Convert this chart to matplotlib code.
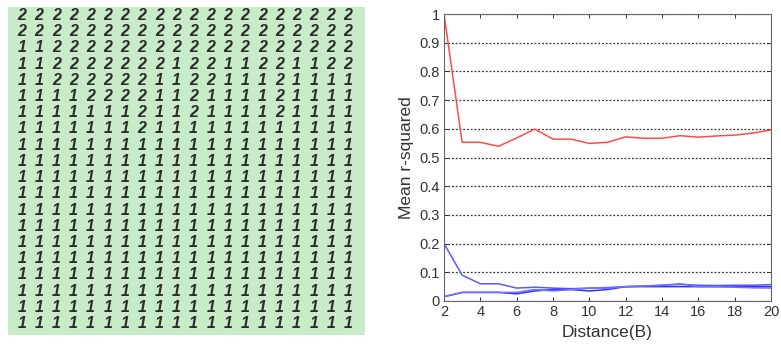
import matplotlib
matplotlib.use("Agg")
import matplotlib.pyplot as plt
import numpy as np

# ---- Left panel: digit grid (20 x 20) ----
grid_rows = [
    "22222222222222222222",
    "22222222222222222222",
    "11222222222222222222",
    "11222222212211221122",
    "11222222112211121111",
    "11112222112111121111",
    "11111112112111121111",
    "11111112111111111111",
    "11111111111111111111",
    "11111111111111111111",
    "11111111111111111111",
    "11111111111111111111",
    "11111111111111111111",
    "11111111111111111111",
    "11111111111111111111",
    "11111111111111111111",
    "11111111111111111111",
    "11111111111111111111",
    "11111111111111111111",
    "11111111111111111111",
]

# ---- Right panel: mean r-squared vs distance ----
distance = list(range(2, 21))
red_series = [1.0, 0.553, 0.553, 0.539, 0.568, 0.599, 0.564, 0.564, 0.549, 0.553,
              0.572, 0.567, 0.567, 0.576, 0.571, 0.575, 0.578, 0.585, 0.596]
blue_a = [0.20, 0.09, 0.06, 0.06, 0.045, 0.048, 0.045, 0.043, 0.045, 0.047,
          0.050, 0.052, 0.055, 0.058, 0.055, 0.054, 0.055, 0.055, 0.057]
blue_b = [0.015, 0.03, 0.03, 0.03, 0.025, 0.035, 0.040, 0.040, 0.035, 0.040,
          0.050, 0.050, 0.050, 0.050, 0.050, 0.050, 0.050, 0.050, 0.050]
blue_c = [0.015, 0.03, 0.03, 0.03, 0.030, 0.040, 0.035, 0.040, 0.045, 0.045,
          0.050, 0.052, 0.055, 0.060, 0.050, 0.050, 0.048, 0.046, 0.045]
y_ticks = [0, 0.1, 0.2, 0.3, 0.4, 0.5, 0.6, 0.7, 0.8, 0.9, 1]
y_tick_labels = ["0", "0.1", "0.2", "0.3", "0.4", "0.5", "0.6", "0.7", "0.8", "0.9", "1"]
x_ticks = list(range(2, 21, 2))

W, H = 781, 348
fig = plt.figure(figsize=(W / 100, H / 100), dpi=100)
fig.patch.set_facecolor("white")

# Left grid axes
axL = fig.add_axes([8 / W, 1 - 335 / H, 357 / W, 328 / H])
axL.set_facecolor("#c8ebc8")
for s in axL.spines.values():
    s.set_visible(False)
axL.set_xticks([])
axL.set_yticks([])
axL.set_xlim(-0.816, 19.99)
axL.set_ylim(19.8, -0.43)
for r, row in enumerate(grid_rows):
    for c, ch in enumerate(row):
        axL.text(c, r, ch, ha="center", va="center_baseline",
                 fontsize=11.5, fontweight="bold", fontstyle="italic",
                 family="Liberation Sans", color="#2a2f2a")

# Right line chart
axR = fig.add_axes([444 / W, 1 - 301 / H, 327 / W, 287 / H])
axR.plot(distance, red_series, color="#ff4a4a", lw=1.1)
axR.plot(distance, blue_a, color="#5a5aff", lw=1.1)
axR.plot(distance, blue_b, color="#3030ff", lw=1.1)
axR.plot(distance, blue_c, color="#7070ff", lw=1.1)
axR.set_xlim(2, 20)
axR.set_ylim(0, 1)
axR.set_yticks(y_ticks)
axR.set_yticklabels(y_tick_labels)
axR.set_xticks(x_ticks)
axR.yaxis.grid(True, linestyle=(0, (1.5, 1.5)), color="#333333", lw=0.9)
axR.tick_params(direction="in", top=True, right=True, length=3, width=0.7,
                labelsize=10.5, colors="#333333", pad=3)
for lab in axR.get_xticklabels() + axR.get_yticklabels():
    lab.set_family("Liberation Sans")
for s in axR.spines.values():
    s.set_color("#666666")
    s.set_linewidth(0.8)
axR.set_xlabel("Distance(B)", fontsize=12.5, family="Liberation Sans", color="#333333", labelpad=4)
axR.set_ylabel("Mean r-squared", fontsize=12.5, family="Liberation Sans", color="#333333", labelpad=4)

fig.savefig("out.png", dpi=100)
